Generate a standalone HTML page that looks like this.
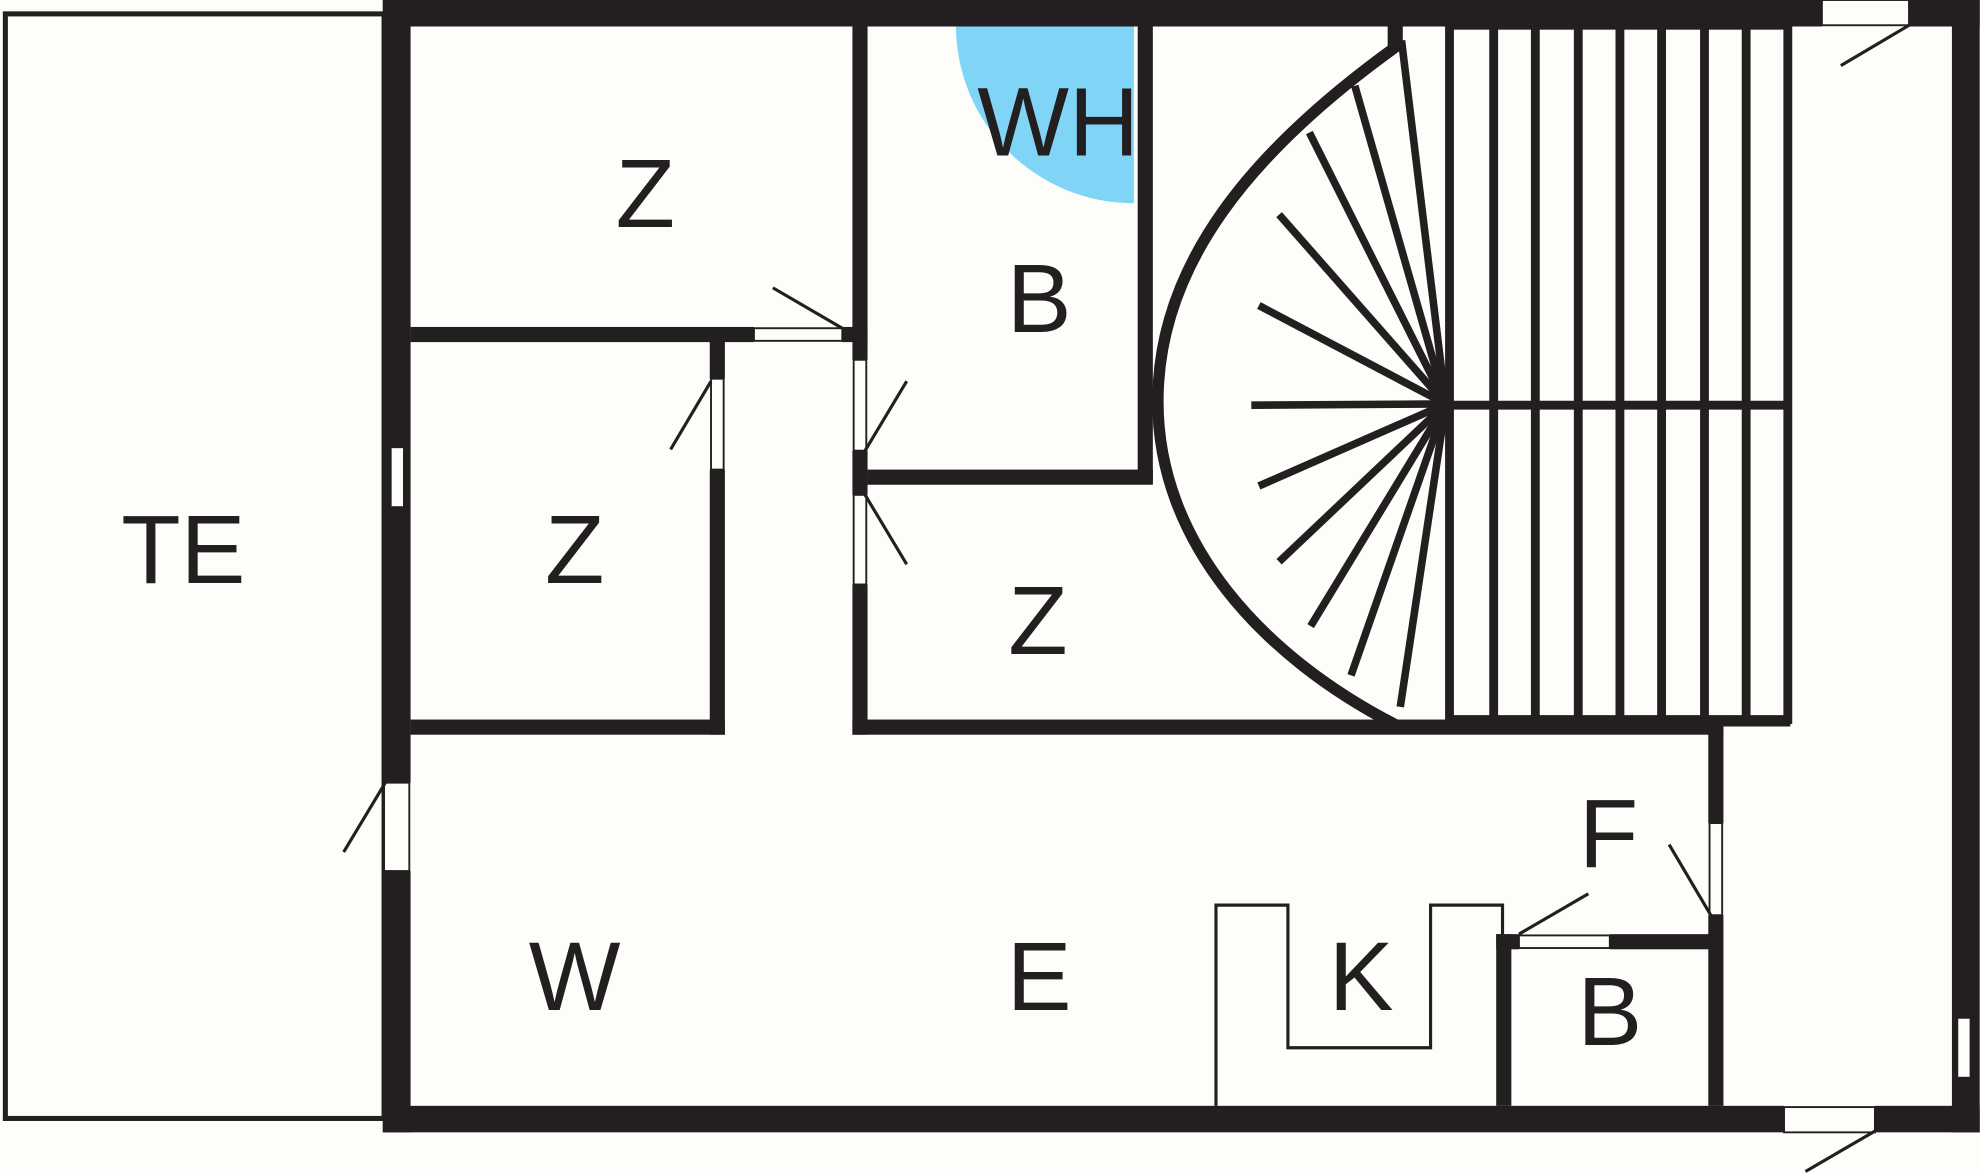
<!DOCTYPE html>
<html><head><meta charset="utf-8"><style>
html,body{margin:0;padding:0;background:#fdfdf9;}
svg{display:block;}
text{font-family:"Liberation Sans",sans-serif;font-size:77px;fill:#231f20;text-anchor:middle;}
</style></head><body>
<svg width="1980" height="1174" viewBox="0 0 1568 930" xmlns="http://www.w3.org/2000/svg">
<rect width="1568" height="930" fill="#fdfdf9"/>
<path d="M757,20 A141,141 0 0 0 898,161 L898,20 Z" fill="#80d4f6"/>
<rect x="4" y="11" width="300" height="875" fill="none" stroke="#231f20" stroke-width="4"/>
<!-- door frames -->
<g fill="#fdfdf9" stroke="#231f20" stroke-width="1.5">
<rect x="1443" y="0" width="69" height="20"/>
<rect x="1413" y="877" width="72" height="20"/>
<rect x="304" y="620" width="20" height="70"/>
<rect x="563" y="300" width="10" height="72"/>
<rect x="676" y="285" width="10" height="72"/>
<rect x="676" y="392" width="10" height="71"/>
<rect x="597" y="260" width="70" height="10"/>
<rect x="1354" y="652" width="10" height="73"/>
<rect x="1203" y="741" width="72" height="10"/>
</g>
<g fill="#231f20">
<rect x="303" y="0" width="1140" height="21"/>
<rect x="1512" y="0" width="56" height="21"/>
<rect x="1546" y="0" width="22" height="897"/>
<rect x="303" y="876" width="1110" height="21"/>
<rect x="1485" y="876" width="83" height="21"/>
<rect x="303" y="0" width="22" height="620"/>
<rect x="303" y="690" width="22" height="207"/>
<rect x="325" y="259" width="272" height="12"/>
<rect x="667" y="259" width="20" height="12"/>
<rect x="675" y="20" width="12" height="265"/>
<rect x="675" y="357" width="12" height="35"/>
<rect x="675" y="463" width="12" height="119"/>
<rect x="562" y="270" width="12" height="30"/>
<rect x="562" y="372" width="12" height="210"/>
<rect x="325" y="570" width="249" height="12"/>
<rect x="675" y="570" width="690" height="12"/>
<rect x="901" y="20" width="12" height="363"/>
<rect x="687" y="372" width="226" height="12"/>
<rect x="1099" y="20" width="12" height="20"/>
<rect x="1353" y="572" width="12" height="80"/>
<rect x="1353" y="725" width="12" height="151"/>
<rect x="1275" y="740" width="80" height="12"/>
<rect x="1185" y="740" width="18" height="12"/>
<rect x="1185" y="740" width="12" height="136"/>
</g>
<rect x="309" y="354" width="11" height="48" fill="#fdfdf9" stroke="#231f20" stroke-width="2"/>
<rect x="1550" y="806" width="11" height="48" fill="#fdfdf9" stroke="#231f20" stroke-width="2"/>
<g stroke="#231f20" stroke-width="7" fill="none">
<rect x="1148" y="20" width="268" height="550"/>
<line x1="1183" y1="20" x2="1183" y2="570"/>
<line x1="1216" y1="20" x2="1216" y2="570"/>
<line x1="1250" y1="20" x2="1250" y2="570"/>
<line x1="1283" y1="20" x2="1283" y2="570"/>
<line x1="1316" y1="20" x2="1316" y2="570"/>
<line x1="1350" y1="20" x2="1350" y2="570"/>
<line x1="1383" y1="20" x2="1383" y2="570"/>
<line x1="1148" y1="321" x2="1416" y2="321"/>
<line x1="1365" y1="572" x2="1418" y2="572"/>
<path d="M1107,36 C990,120 917,210 917,318 C917,430 1000,520 1105,574" stroke-width="9"/>
<g stroke-width="6">
<line x1="1145" y1="320" x2="1110" y2="32"/>
<line x1="1145" y1="320" x2="1073" y2="68"/>
<line x1="1145" y1="320" x2="1037" y2="105"/>
<line x1="1145" y1="320" x2="1013" y2="170"/>
<line x1="1145" y1="320" x2="997" y2="242"/>
<line x1="1145" y1="320" x2="991" y2="321"/>
<line x1="1145" y1="320" x2="997" y2="385"/>
<line x1="1145" y1="320" x2="1013" y2="445"/>
<line x1="1145" y1="320" x2="1038" y2="496"/>
<line x1="1145" y1="320" x2="1070" y2="535"/>
<line x1="1145" y1="320" x2="1109" y2="560"/>
</g>
</g>
<g stroke="#231f20" stroke-width="2.5" fill="none">
<line x1="1458" y1="52" x2="1512" y2="20"/>
<line x1="612" y1="228" x2="667" y2="260"/>
<line x1="531" y1="356" x2="563" y2="302"/>
<line x1="685" y1="357" x2="718" y2="302"/>
<line x1="685" y1="392" x2="718" y2="447"/>
<line x1="272" y1="675" x2="305" y2="620"/>
<line x1="1203" y1="740" x2="1258" y2="708"/>
<line x1="1322" y1="669" x2="1355" y2="725"/>
<line x1="1430" y1="928" x2="1485" y2="896"/>
<polyline points="963,876 963,717 1020,717 1020,830 1133,830 1133,717 1190,717 1190,740"/>
</g>
<text x="511" y="180">Z</text>
<text x="145" y="462">TE</text>
<text x="455" y="462">Z</text>
<text x="823" y="263">B</text>
<text x="838" y="123">WH</text>
<text x="822" y="518">Z</text>
<text x="1274" y="687">F</text>
<text x="455" y="800">W</text>
<text x="823" y="800">E</text>
<text x="1078" y="800">K</text>
<text x="1275" y="828">B</text>
</svg>
</body></html>
